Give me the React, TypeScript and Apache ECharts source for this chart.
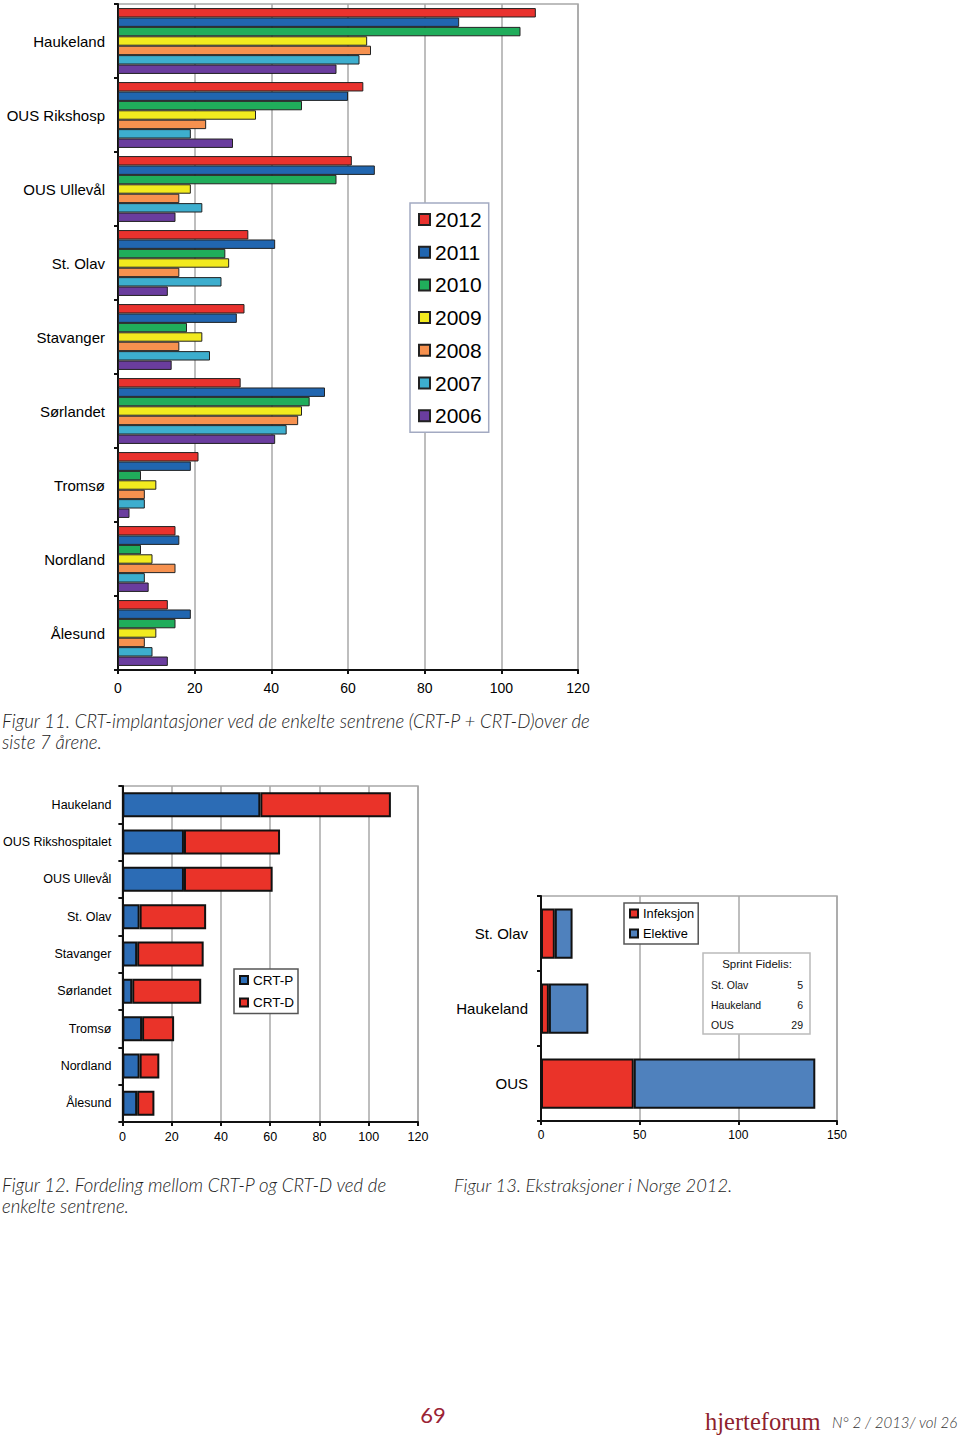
import React, { useEffect, useRef } from "react";
import * as echarts from "echarts";

// ---------- Figur 11 data ----------
const centers11 = ["Haukeland", "OUS Rikshosp", "OUS Ullevål", "St. Olav", "Stavanger", "Sørlandet", "Tromsø", "Nordland", "Ålesund"];
const years11 = ["2012", "2011", "2010", "2009", "2008", "2007", "2006"];
const v2012 = [109, 64, 61, 34, 33, 32, 21, 15, 13];
const v2011 = [89, 60, 67, 41, 31, 54, 19, 16, 19];
const v2010 = [105, 48, 57, 28, 18, 50, 6, 6, 15];
const v2009 = [65, 36, 19, 29, 22, 48, 10, 9, 10];
const v2008 = [66, 23, 16, 16, 16, 47, 7, 15, 7];
const v2007 = [63, 19, 22, 27, 24, 44, 7, 7, 9];
const v2006 = [57, 30, 15, 13, 14, 41, 3, 8, 13];
const yearValues = [v2012, v2011, v2010, v2009, v2008, v2007, v2006];
const yearColors = ["#E9322E", "#2166B0", "#20AD5B", "#F2EA1F", "#F6914F", "#3DAECE", "#6A3D9E"];
const axis11 = { min: 0, max: 120, step: 20 };

// ---------- Figur 12 data ----------
const centers12 = ["Haukeland", "OUS Rikshospitalet", "OUS Ullevål", "St. Olav", "Stavanger", "Sørlandet", "Tromsø", "Nordland", "Ålesund"];
const crtP = [56, 25, 25, 7, 6, 4, 8, 7, 6];
const crtD = [53, 39, 36, 27, 27, 28, 13, 8, 7];
const axis12 = { min: 0, max: 120, step: 20 };

// ---------- Figur 13 data ----------
const sites13 = ["St. Olav", "Haukeland", "OUS"];
const infeksjon = [7, 4, 47];
const elektive = [9, 20, 92];
const axis13 = { min: 0, max: 150, step: 50 };
const sprintTitle = "Sprint Fidelis:";
const sprintSites = ["St. Olav", "Haukeland", "OUS"];
const sprintCounts = [5, 6, 29];

// ---------- texts ----------
const caption11 = ["Figur 11. CRT-implantasjoner ved de enkelte sentrene (CRT-P + CRT-D)over de", "siste 7 årene."];
const caption12 = ["Figur 12. Fordeling mellom CRT-P og CRT-D ved de", "enkelte sentrene."];
const caption13 = ["Figur 13. Ekstraksjoner i Norge 2012."];
const pageNo = "69";
const journal = "hjerteforum";
const issue = "N° 2 / 2013/ vol 26";

const SANS = "Liberation Sans, Arial, sans-serif";
const CAP = "Lato, Open Sans, sans-serif";

export default function App() {
  const ref = useRef<HTMLDivElement>(null);
  useEffect(() => {
    if (!ref.current) return;
    const chart = echarts.init(ref.current, null, { renderer: "svg" });

    const catAxisBase = (gridIndex: number, data: string[], fontSize: number, margin: number) => ({
      type: "category",
      gridIndex,
      data,
      inverse: true,
      axisLine: { show: true, lineStyle: { color: "#111", width: 2 } },
      axisTick: { show: true, length: 4, lineStyle: { color: "#111", width: 2 } },
      axisLabel: { fontSize, color: "#000", fontFamily: SANS, margin },
      splitLine: { show: false },
    });
    const valAxisBase = (gridIndex: number, a: { min: number; max: number; step: number }, fontSize: number, margin: number) => ({
      type: "value",
      gridIndex,
      min: a.min,
      max: a.max,
      interval: a.step,
      axisLine: { show: true, lineStyle: { color: "#111", width: 2 } },
      axisTick: { show: true, length: 4, lineStyle: { color: "#111", width: 2 } },
      axisLabel: { fontSize, color: "#000", fontFamily: SANS, margin },
      splitLine: { show: true, lineStyle: { color: "#A8A8A8", width: 1.5 } },
    });

    const series: any[] = [];
    years11.forEach((y, i) => {
      series.push({
        name: y,
        type: "bar",
        xAxisIndex: 0,
        yAxisIndex: 0,
        data: yearValues[i],
        barGap: "0%",
        barCategoryGap: "11%",
        itemStyle: { color: yearColors[i], borderColor: "#222", borderWidth: 1 },
      });
    });
    series.push({
      name: "CRT-P", type: "bar", xAxisIndex: 1, yAxisIndex: 1, stack: "s12", data: crtP,
      barCategoryGap: "33%", itemStyle: { color: "#2C6CB5", borderColor: "#111", borderWidth: 2 },
    });
    series.push({
      name: "CRT-D", type: "bar", xAxisIndex: 1, yAxisIndex: 1, stack: "s12", data: crtD,
      barCategoryGap: "33%", itemStyle: { color: "#EA3329", borderColor: "#111", borderWidth: 2 },
    });
    series.push({
      name: "Infeksjon", type: "bar", xAxisIndex: 2, yAxisIndex: 2, stack: "s13", data: infeksjon,
      barCategoryGap: "33%", itemStyle: { color: "#EA3329", borderColor: "#111", borderWidth: 2 },
    });
    series.push({
      name: "Elektive", type: "bar", xAxisIndex: 2, yAxisIndex: 2, stack: "s13", data: elektive,
      barCategoryGap: "33%", itemStyle: { color: "#4F81BD", borderColor: "#111", borderWidth: 2 },
    });

    const txt = (x: number, y: number, text: string, font: any, extra: any = {}) => ({
      type: "text",
      x,
      y,
      silent: true,
      style: {
        text,
        fill: font.fill || "#333",
        fontSize: font.size,
        fontFamily: font.family,
        fontStyle: font.style || "normal",
        fontWeight: font.weight || "normal",
        textAlign: font.align || "left",
        textVerticalAlign: "middle",
        ...extra,
      },
    });

    const capFont = { size: 18.6, family: CAP, style: "italic", weight: 300, fill: "#222" };
    const graphic: any[] = [];
    caption11.forEach((t, i) => graphic.push(txt(2, 721 + i * 21, t, capFont)));
    caption12.forEach((t, i) => graphic.push(txt(2, 1185 + i * 21, t, capFont)));
    caption13.forEach((t, i) => graphic.push(txt(454, 1185 + i * 21, t, { ...capFont, size: 18.3 })));

    // Sprint Fidelis box
    graphic.push({
      type: "rect",
      shape: { x: 703, y: 953, width: 107, height: 81 },
      style: { fill: "#fff", stroke: "#BBBBBB", lineWidth: 1.5 },
      z: 10,
    });
    graphic.push({ ...txt(757, 964, sprintTitle, { size: 11.5, family: SANS, fill: "#111", align: "center" }), z: 11 });
    sprintSites.forEach((s, i) => {
      graphic.push({ ...txt(711, 985 + i * 20, s, { size: 10.5, family: SANS, fill: "#111" }), z: 11 });
      graphic.push({ ...txt(803, 985 + i * 20, String(sprintCounts[i]), { size: 10.5, family: SANS, fill: "#111", align: "right" }), z: 11 });
    });

    // footer
    graphic.push(txt(433, 1414, pageNo, { size: 22, family: CAP, fill: "#9B2335", align: "center" }));
    graphic.push(txt(705, 1421, journal, { size: 24.5, family: "Liberation Serif, serif", fill: "#8E1F2E" }));
    graphic.push(txt(832, 1422, issue, { size: 15, family: CAP, style: "italic", weight: 300, fill: "#333" }));

    chart.setOption({
      animation: false,
      backgroundColor: "#fff",
      grid: [
        { left: 118, top: 4, width: 460, height: 666, show: true, borderColor: "#A8A8A8", borderWidth: 1.5, backgroundColor: "transparent" },
        { left: 122, top: 786, width: 296, height: 336, show: true, borderColor: "#A8A8A8", borderWidth: 1.5, backgroundColor: "transparent" },
        { left: 541, top: 896, width: 296, height: 225, show: true, borderColor: "#A8A8A8", borderWidth: 1.5, backgroundColor: "transparent" },
      ],
      xAxis: [valAxisBase(0, axis11, 14, 11), valAxisBase(1, axis12, 12.5, 8), valAxisBase(2, axis13, 12, 8)],
      yAxis: [catAxisBase(0, centers11, 15, 13), catAxisBase(1, centers12, 12.5, 11), catAxisBase(2, sites13, 15, 13)],
      legend: [
        {
          data: years11,
          orient: "vertical",
          left: 410,
          top: 203,
          padding: [6, 7, 6, 8],
          itemWidth: 11,
          itemHeight: 11,
          itemGap: 11.7,
          icon: "rect",
          selectedMode: false,
          backgroundColor: "#fff",
          borderColor: "#A3AAC2",
          borderWidth: 1.5,
          textStyle: { fontSize: 21, color: "#000", fontFamily: SANS },
        },
        {
          data: ["CRT-P", "CRT-D"],
          orient: "vertical",
          left: 234,
          top: 969,
          padding: [4, 4, 4, 5],
          itemWidth: 8,
          itemHeight: 8,
          itemGap: 8.5,
          icon: "rect",
          selectedMode: false,
          backgroundColor: "#fff",
          borderColor: "#555",
          borderWidth: 1.5,
          textStyle: { fontSize: 13.5, color: "#000", fontFamily: SANS },
        },
        {
          data: ["Infeksjon", "Elektive"],
          orient: "vertical",
          left: 624,
          top: 903,
          padding: [4, 4, 4, 5],
          itemWidth: 8,
          itemHeight: 8,
          itemGap: 7,
          icon: "rect",
          selectedMode: false,
          backgroundColor: "#fff",
          borderColor: "#555",
          borderWidth: 1.5,
          textStyle: { fontSize: 12.8, color: "#000", fontFamily: SANS },
        },
      ],
      series,
      graphic,
    });
    return () => chart.dispose();
  }, []);

  return (
    <div
      ref={ref}
      style={{ position: "absolute", left: 0, top: 0, width: 960, height: 1439, background: "#fff" }}
    />
  );
}
